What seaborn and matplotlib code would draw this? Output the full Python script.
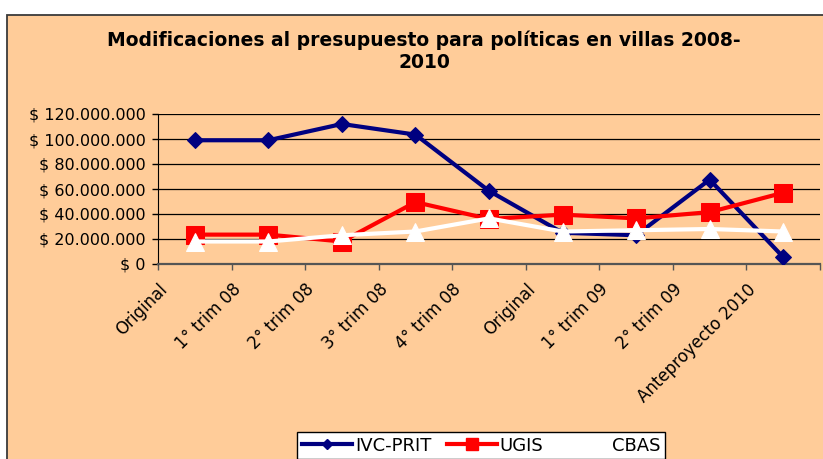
import numpy as np
import pandas as pd
import matplotlib
matplotlib.use("Agg")
import matplotlib.pyplot as plt
import matplotlib.transforms as mtransforms
from matplotlib.patches import Rectangle
from matplotlib.lines import Line2D
from matplotlib.ticker import FuncFormatter
import seaborn as sns

# datos (millones de pesos)
periodos = ["Original", "1° trim 08", "2° trim 08", "3° trim 08", "4° trim 08",
            "Original", "1° trim 09", "2° trim 09", "Anteproyecto 2010"]
ivc_prit = [99.0, 99.0, 112.0, 103.5, 58.5, 25.0, 23.0, 67.5, 5.5]
ugis = [23.5, 23.5, 18.0, 49.5, 36.0, 39.5, 36.5, 41.5, 57.0]
cbas = [18.0, 18.0, 23.0, 26.0, 36.5, 26.0, 27.0, 28.0, 26.0]

df = pd.DataFrame({
    "pos": np.arange(len(periodos)),
    "IVC-PRIT": np.array(ivc_prit) * 1e6,
    "UGIS": np.array(ugis) * 1e6,
    "CBAS": np.array(cbas) * 1e6,
})

plt.rcParams["font.family"] = ["DejaVu Sans"]
peach = "#FFCC99"

W, H = 823, 459
fig = plt.figure(figsize=(W / 100, H / 100), dpi=100, facecolor="white")
fig.patches.append(Rectangle((7 / W, -0.1), 1.0, 1 - 15 / H + 0.1,
                             transform=fig.transFigure, facecolor=peach,
                             edgecolor="#3a3a3a", lw=1.3, zorder=-1))

ax = fig.add_axes([158 / W, 1 - 264 / H, (820 - 158) / W, 150 / H])
ax.set_zorder(1)
ax.set_facecolor(peach)

estilos = [
    ("IVC-PRIT", "#000080", "D", 8.5),
    ("UGIS", "#FF0000", "s", 12.5),
    ("CBAS", "#FFFFFF", "^", 13.5),
]
for serie, color, marker, ms in estilos:
    sns.lineplot(data=df, x="pos", y=serie, ax=ax, color=color, lw=3,
                 marker=marker, markersize=ms, markeredgecolor=color,
                 legend=False, zorder=3)

ax.set_xlim(-0.5, len(periodos) - 0.5)
ax.set_ylim(0, 120e6)
ax.set_yticks(np.arange(0, 120e6 + 1, 20e6))
ax.yaxis.set_major_formatter(FuncFormatter(
    lambda v, p: "$ " + f"{int(round(v)):,}".replace(",", ".")))
ax.grid(axis="y", color="black", lw=0.9)
ax.set_axisbelow(True)

ax.set_xticks(np.arange(-0.5, len(periodos), 1))
ax.set_xticklabels(periodos + [""], rotation=45, ha="right", va="top",
                   rotation_mode="anchor", fontsize=12)
offset = mtransforms.ScaledTranslation(0.17, 0, fig.dpi_scale_trans)
for lab in ax.get_xticklabels():
    lab.set_transform(lab.get_transform() + offset)

ax.tick_params(axis="x", direction="out", length=4, width=1, pad=8,
               color="#555555")
ax.tick_params(axis="y", direction="out", length=4, width=1, pad=5,
               labelsize=11.5)
ax.set_xlabel("")
ax.set_ylabel("")
for s in ["top", "right"]:
    ax.spines[s].set_visible(False)
ax.spines["left"].set_color("black")
ax.spines["bottom"].set_color("#555555")
ax.spines["bottom"].set_linewidth(1.6)

fig.text(424 / W, 1 - 51 / H,
         "Modificaciones al presupuesto para políticas en villas 2008-\n2010",
         ha="center", va="center", fontsize=13.5, fontweight="bold",
         linespacing=1.2)

handles = [Line2D([], [], color=c, lw=3, marker=m, markersize=ms * 0.65,
                  markeredgecolor=c) for _, c, m, ms in estilos]
leg = fig.legend(handles, [e[0] for e in estilos], ncol=3, fontsize=13,
                 loc="upper left", bbox_to_anchor=(297 / W, 1 - 432 / H),
                 frameon=True, fancybox=False, framealpha=1,
                 edgecolor="black", borderaxespad=0, handlelength=2.8,
                 handletextpad=0.15, columnspacing=0.85, borderpad=0.25)
leg.get_frame().set_linewidth(1.0)

fig.savefig("out.png", dpi=100, facecolor=fig.get_facecolor())
